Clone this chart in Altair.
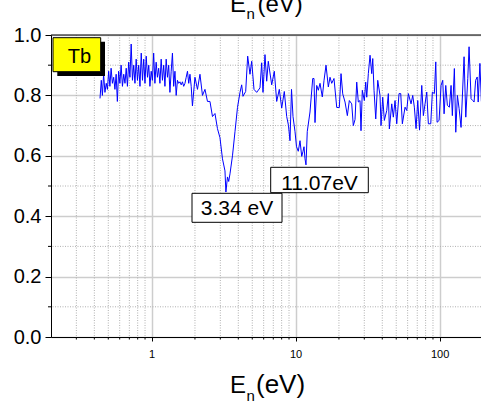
import altair as alt
import pandas as pd

# ---- data (neutron energy in eV, transmission) ----
energy_ev = [
    0.438, 0.447, 0.455, 0.464, 0.474, 0.484, 0.493, 0.503, 0.513, 0.523,
    0.534, 0.545, 0.556, 0.567, 0.578, 0.590, 0.602, 0.614, 0.627, 0.640,
    0.653, 0.666, 0.679, 0.693, 0.707, 0.721, 0.736, 0.751, 0.766, 0.781,
    0.797, 0.813, 0.830, 0.847, 0.864, 0.881, 0.899, 0.917, 0.936, 0.955,
    0.973, 0.993, 1.013, 1.033, 1.054, 1.075, 1.097, 1.119, 1.142, 1.165,
    1.189, 1.213, 1.237, 1.262, 1.288, 1.314, 1.340, 1.367, 1.395, 1.423,
    1.452, 1.481, 1.511, 1.542, 1.573, 1.605, 1.637, 1.670, 1.704, 1.738,
    1.774, 1.810, 1.846, 1.883, 1.921,
    2.000, 2.082,
    2.166, 2.255, 2.347, 2.443, 2.542, 2.646, 2.754, 2.866, 2.983, 3.105,
    3.232, 3.280, 3.364, 3.430, 3.501, 3.644, 3.793, 3.948, 4.109,
    4.222, 4.311, 4.501, 4.647, 4.822, 4.955, 5.140, 5.367, 5.658, 5.814,
    5.936, 6.130, 6.299, 6.462, 6.823, 7.113, 7.392, 7.706, 8.007, 8.348,
    8.674, 8.927, 9.144, 9.366, 9.593, 9.906, 10.15, 10.44, 10.73, 11.03,
    11.26, 11.44, 11.62, 11.81, 12.05, 12.59, 13.15, 13.42, 13.64, 14.02,
    14.38, 14.78, 15.33, 15.76, 16.27, 16.88, 17.34, 17.82, 18.48, 19.31,
    20.13, 20.68, 21.25, 22.05, 22.88, 23.62, 24.54, 25.17, 25.87, 26.58,
    27.27, 28.02, 28.47, 29.07, 30.02, 30.70, 31.20, 32.01, 32.89, 33.80,
    34.34, 35.06, 36.03, 37.20, 38.59, 39.21, 40.29, 41.34, 42.96, 44.08,
    44.79, 46.54, 47.74, 49.06, 50.41, 52.30, 53.75, 55.14, 57.58, 59.17,
    60.70, 63.37, 65.12, 66.82, 68.66, 70.55, 72.60, 75.22, 77.17, 79.29,
    81.48, 83.59, 86.87, 89.12, 92.03, 94.11, 96.08, 99.20, 102.4, 105.2,
    107.5, 110.4, 113.3, 117.0, 120.2, 122.7, 126.7, 129.6, 133.0, 136.7,
    141.0, 148.0, 152.1, 157.0, 160.3, 165.5, 170.1, 173.7, 178.0, 182.6,
    185.5, 190.6, 195.2,
]
transmission = [
    0.79, 0.85, 0.80, 0.87, 0.81, 0.84, 0.82, 0.88, 0.83, 0.89,
    0.84, 0.86, 0.82, 0.87, 0.78, 0.88, 0.84, 0.90, 0.83, 0.87,
    0.84, 0.89, 0.83, 0.91, 0.86, 0.97, 0.85, 0.90, 0.84, 0.92,
    0.85, 0.90, 0.83, 0.94, 0.85, 0.92, 0.84, 0.93, 0.86, 0.90,
    0.83, 0.88, 0.85, 0.94, 0.84, 0.91, 0.86, 0.89, 0.84, 0.92,
    0.85, 0.90, 0.83, 0.92, 0.86, 0.90, 0.81, 0.88, 0.94, 0.83,
    0.88, 0.80, 0.85, 0.84, 0.845, 0.835, 0.845, 0.83, 0.84, 0.86,
    0.88, 0.84, 0.87, 0.83, 0.765,
    0.86, 0.82,
    0.87, 0.80, 0.82, 0.78, 0.78, 0.73, 0.74, 0.69, 0.66, 0.59,
    0.55, 0.48, 0.53, 0.515, 0.54, 0.60, 0.68, 0.76, 0.81,
    0.835, 0.797, 0.813, 0.93, 0.87, 0.913, 0.82, 0.81, 0.825, 0.908,
    0.81, 0.935, 0.847, 0.913, 0.835, 0.88, 0.78, 0.82, 0.758, 0.813,
    0.73, 0.70, 0.65, 0.82, 0.73, 0.68, 0.63, 0.615, 0.65, 0.598,
    0.615, 0.63, 0.59, 0.57, 0.68, 0.745, 0.856, 0.856, 0.71, 0.833,
    0.817, 0.84, 0.795, 0.85, 0.90, 0.828, 0.86, 0.84, 0.856, 0.76,
    0.76, 0.872, 0.805, 0.778, 0.733, 0.783, 0.772, 0.70, 0.72, 0.844,
    0.778, 0.783, 0.683, 0.817, 0.783, 0.844, 0.794, 0.872, 0.933, 0.872,
    0.922, 0.817, 0.722, 0.85, 0.80, 0.70, 0.794, 0.717, 0.75, 0.806,
    0.689, 0.772, 0.728, 0.783, 0.706, 0.806, 0.806, 0.706, 0.761, 0.75,
    0.806, 0.772, 0.80, 0.761, 0.69, 0.783, 0.685, 0.833, 0.733, 0.772,
    0.811, 0.706, 0.706, 0.811, 0.806, 0.911, 0.711, 0.717, 0.833, 0.85,
    0.739, 0.833, 0.767, 0.761, 0.833, 0.733, 0.889, 0.678, 0.80, 0.756,
    0.694, 0.928, 0.728, 0.856, 0.961, 0.789, 0.783, 0.778, 0.85, 0.861,
    0.778, 0.906, 0.78,
]
x_major = [1, 10, 100]
x_minor = [0.3, 0.4, 0.5, 0.6, 0.7, 0.8, 0.9, 2, 3, 4, 5, 6, 7, 8, 9,
           20, 30, 40, 50, 60, 70, 80, 90]
y_major = [0.0, 0.2, 0.4, 0.6, 0.8, 1.0]
y_minor = [0.1, 0.3, 0.5, 0.7, 0.9]
sample_label = "Tb"
peak_labels = ["3.34 eV", "11.07eV"]

FONT = "Liberation Sans"
W, H = 430, 302

n = min(len(energy_ev), len(transmission))
df = pd.DataFrame({"E": energy_ev[:n], "T": transmission[:n]})
xscale = alt.Scale(type="log", domain=[0.2, 194], nice=False)
yscale = alt.Scale(domain=[0, 1], nice=False)

xaxis = alt.Axis(
    values=x_major, format="~g", title=None, grid=True,
    gridColor="#cdcdcd", gridWidth=1.5, domainColor="black", tickColor="black",
    tickSize=4, labelFont=FONT, labelFontSize=11, labelColor="black",
    labelPadding=7, labelFlush=False, labelOverlap=False)
yaxis = alt.Axis(
    values=y_major, format=".1f", title=None, grid=True,
    gridColor="#cdcdcd", gridWidth=1.5, domainColor="black", tickColor="black",
    tickSize=6, labelFont=FONT, labelFontSize=20, labelColor="black",
    labelPadding=4, labelOverlap=False)

xminor_df = pd.DataFrame({"v": x_minor})
yminor_df = pd.DataFrame({"v": y_minor})

xgrid = alt.Chart(xminor_df).mark_rule(color="#b0b0b0", strokeDash=[1, 1.5], strokeWidth=1).encode(
    x=alt.X("v:Q", scale=xscale, axis=xaxis))
ygrid = alt.Chart(yminor_df).mark_rule(color="#b0b0b0", strokeDash=[1, 1.5], strokeWidth=1).encode(
    y=alt.Y("v:Q", scale=yscale, axis=yaxis))

line = alt.Chart(df).mark_line(color="#0000ff", strokeWidth=1, clip=True).encode(
    x=alt.X("E:Q", scale=xscale, axis=xaxis),
    y=alt.Y("T:Q", scale=yscale, axis=yaxis),
)

xticks = alt.Chart(xminor_df).mark_rule(color="black", strokeWidth=1).encode(
    x=alt.X("v:Q", scale=xscale, axis=xaxis), y=alt.value(H), y2=alt.value(H + 2.5))
yticks = alt.Chart(yminor_df).mark_rule(color="black", strokeWidth=1).encode(
    y=alt.Y("v:Q", scale=yscale, axis=yaxis), x=alt.value(-3), x2=alt.value(0))

one = pd.DataFrame({"a": [0]})

top_border = alt.Chart(one).mark_rule(color="black", strokeWidth=1).encode(
    y=alt.value(0), x=alt.value(0), x2=alt.value(W))


def box(x0, x1, y0, y1, fill, stroke=None):
    kw = dict(fill=fill)
    if stroke:
        kw.update(stroke=stroke, strokeWidth=1)
    return alt.Chart(one).mark_rect(**kw).encode(
        x=alt.value(x0), x2=alt.value(x1), y=alt.value(y0), y2=alt.value(y1))


def label(txt, x, y, size, align="center"):
    return alt.Chart(pd.DataFrame({"t": [txt]})).mark_text(
        font=FONT, fontSize=size, color="black", align=align, baseline="alphabetic"
    ).encode(x=alt.value(x), y=alt.value(y), text="t:N")


tb_shadow = box(6.3, 54, 6.7, 41, "black")
tb_box = box(2, 49.7, 2.7, 36.7, "#ffff00", "black")
tb_text = label(sample_label, 28.5, 28, 20)

b1 = box(219.7, 317.3, 132.3, 157.7, "white", "black")
t1 = label(peak_labels[1], 268.5, 155, 21)
b2 = box(141, 231, 158.3, 187.3, "white", "black")
t2 = label(peak_labels[0], 186, 180, 21)

# axis titles E_n(eV) (top one partly outside the view, as in the reference)
top_E = label("E", 179, -23, 24, "left")
top_n = label("n", 195.5, -16, 15, "left")
top_eV = label("(eV)", 206.5, -23, 24, "left")
bot_E = label("E", 179, 358, 24, "left")
bot_n = label("n", 195.5, 366, 15, "left")
bot_eV = label("(eV)", 205, 358, 26, "left")

chart = alt.layer(
    xgrid, ygrid, line, xticks, yticks, top_border,
    tb_shadow, tb_box, tb_text, b1, t1, b2, t2,
    top_E, top_n, top_eV, bot_E, bot_n, bot_eV,
).properties(
    width=W, height=H,
    autosize=alt.AutoSizeParams(type="none"),
    padding={"left": 51, "top": 35, "right": 0, "bottom": 68},
).configure_view(stroke=None).configure(background="white")

chart.save("out.html", embed_options={"renderer": "svg", "actions": False})
